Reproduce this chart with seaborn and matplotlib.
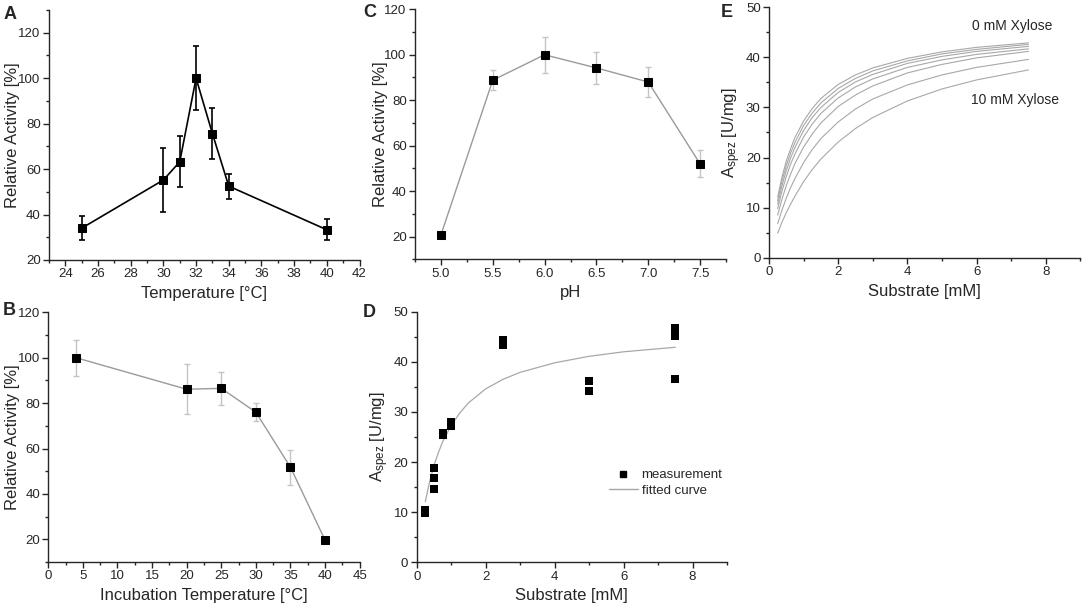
import numpy as np
import pandas as pd
import matplotlib
matplotlib.use("Agg")
import matplotlib.pyplot as plt
import seaborn as sns
from matplotlib.ticker import MultipleLocator
from matplotlib.lines import Line2D

# A - temperature optimum
temp_a = [25, 30, 31, 32, 33, 34, 40]
act_a = [34.0, 55.2, 63.2, 100.0, 75.6, 52.5, 33.3]
err_a = [5.2, 14.2, 11.3, 14.0, 11.1, 5.5, 4.6]

# B - incubation temperature (stability)
temp_b = [4, 20, 25, 30, 35, 40]
act_b = [100.0, 86.1, 86.5, 76.0, 51.8, 19.7]
err_b = [8.0, 11.0, 7.3, 4.0, 7.7, 0.0]

# C - pH
ph_c = [5.0, 5.5, 6.0, 6.5, 7.0, 7.5]
act_c = [20.7, 88.8, 100.0, 94.2, 88.0, 52.0]
err_c = [0.5, 4.3, 8.0, 7.2, 6.5, 6.0]

# D - kinetics measurements + fitted curve
subs_d = [0.25, 0.25, 0.5, 0.5, 0.5, 0.75, 0.75, 1.0, 1.0,
          2.5, 2.5, 5.0, 5.0, 7.5, 7.5, 7.5]
aspez_d = [10.4, 9.9, 18.8, 16.8, 14.6, 25.8, 25.4, 28.0, 27.2,
           44.3, 43.4, 36.1, 34.2, 46.7, 45.1, 36.6]
fit_x = [0.25, 0.375, 0.5, 0.625, 0.75, 1, 1.25, 1.5, 2, 2.5, 3, 4, 5, 6, 7.5]
fit_d = [12.1, 16.1, 19.3, 21.8, 24.0, 27.3, 29.8, 31.8, 34.6, 36.5, 37.9,
         39.8, 41.1, 42.0, 42.9]

# E - fitted curves with increasing xylose (top = 0 mM, bottom = 10 mM)
curves_e = [
    [12.1, 16.1, 19.3, 21.8, 24.0, 27.3, 29.8, 31.8, 34.6, 36.5, 37.9, 39.8, 41.1, 42.0, 42.9],
    [11.4, 15.3, 18.4, 20.9, 23.0, 26.4, 28.9, 30.9, 33.8, 35.8, 37.3, 39.3, 40.7, 41.6, 42.6],
    [10.7, 14.4, 17.4, 19.9, 22.0, 25.4, 28.0, 30.0, 33.0, 35.1, 36.6, 38.8, 40.2, 41.2, 42.2],
    [9.8, 13.3, 16.2, 18.7, 20.7, 24.1, 26.7, 28.8, 31.9, 34.1, 35.7, 38.0, 39.5, 40.6, 41.7],
    [8.5, 11.7, 14.4, 16.7, 18.8, 22.1, 24.7, 26.9, 30.2, 32.5, 34.3, 36.9, 38.6, 39.9, 41.2],
    [6.8, 9.5, 11.9, 14.0, 15.8, 19.0, 21.6, 23.8, 27.1, 29.7, 31.7, 34.5, 36.5, 38.0, 39.6],
    [4.9, 7.1, 9.0, 10.7, 12.3, 15.2, 17.6, 19.7, 23.1, 25.8, 28.0, 31.3, 33.7, 35.5, 37.5],
]

sns.set_style("ticks")
plt.rcParams['font.family'] = ['Liberation Sans', 'DejaVu Sans']
plt.rcParams['mathtext.default'] = 'regular'
plt.rcParams['xtick.labelsize'] = 9.5
plt.rcParams['ytick.labelsize'] = 9.5
plt.rcParams['axes.labelsize'] = 12
plt.rcParams['axes.linewidth'] = 1.0

fig = plt.figure(figsize=(10.84, 6.09), dpi=100)
W, H = 1084, 609


def make_ax(x0, x1, ytop, ybot):
    return fig.add_axes([x0 / W, 1 - ybot / H, (x1 - x0) / W, (ybot - ytop) / H])


ax_a = make_ax(49, 359.5, 10, 260)
ax_b = make_ax(48.3, 359.6, 312.3, 562)
ax_c = make_ax(415, 726, 9.3, 259.3)
ax_d = make_ax(416.7, 727, 311.7, 562.3)
ax_e = make_ax(769, 1080.4, 7.3, 257.7)

gray = '#9a9a9a'
light = '#c4c4c4'
fitgray = '#a8a8a8'
ms = 5.2

# A
ax_a.errorbar(temp_a, act_a, yerr=err_a, fmt='none', ecolor='black',
              elinewidth=1.2, capsize=2.5, capthick=1.2, zorder=2)
sns.lineplot(x=temp_a, y=act_a, ax=ax_a, color='black', lw=1.2, marker='s',
             markersize=ms, markerfacecolor='black', markeredgecolor='black', zorder=3)
ax_a.set_xlim(23, 42)
ax_a.set_ylim(20, 130)
ax_a.xaxis.set_major_locator(MultipleLocator(2))
ax_a.xaxis.set_minor_locator(MultipleLocator(1))
ax_a.set_yticks([20, 40, 60, 80, 100, 120])
ax_a.yaxis.set_minor_locator(MultipleLocator(10))
ax_a.set_xlabel('Temperature [°C]')
ax_a.set_ylabel('Relative Activity [%]')
ax_a.yaxis.set_label_coords(-0.092, 0.5)

# B
ax_b.errorbar(temp_b, act_b, yerr=err_b, fmt='none', ecolor=light,
              elinewidth=1.0, capsize=2.5, capthick=1.0, zorder=2)
sns.lineplot(x=temp_b, y=act_b, ax=ax_b, color=gray, lw=1.0, marker='s',
             markersize=ms, markerfacecolor='black', markeredgecolor='black', zorder=3)
ax_b.set_xlim(0, 45)
ax_b.set_ylim(10, 120)
ax_b.xaxis.set_major_locator(MultipleLocator(5))
ax_b.xaxis.set_minor_locator(MultipleLocator(2.5))
ax_b.set_yticks([20, 40, 60, 80, 100, 120])
ax_b.yaxis.set_minor_locator(MultipleLocator(10))
ax_b.set_xlabel('Incubation Temperature [°C]')
ax_b.set_ylabel('Relative Activity [%]')
ax_b.yaxis.set_label_coords(-0.090, 0.5)

# C
ax_c.errorbar(ph_c, act_c, yerr=err_c, fmt='none', ecolor=light,
              elinewidth=1.0, capsize=2.5, capthick=1.0, zorder=2)
sns.lineplot(x=ph_c, y=act_c, ax=ax_c, color=gray, lw=1.0, marker='s',
             markersize=ms, markerfacecolor='black', markeredgecolor='black', zorder=3)
ax_c.set_xlim(4.75, 7.75)
ax_c.set_ylim(10, 120)
ax_c.set_xticks(ph_c)
ax_c.set_xticklabels([f'{v:.1f}' for v in ph_c])
ax_c.xaxis.set_minor_locator(MultipleLocator(0.25))
ax_c.set_yticks([20, 40, 60, 80, 100, 120])
ax_c.yaxis.set_minor_locator(MultipleLocator(10))
ax_c.set_xlabel('pH')
ax_c.set_ylabel('Relative Activity [%]')
ax_c.yaxis.set_label_coords(-0.088, 0.5)

# D
sns.lineplot(x=fit_x, y=fit_d, ax=ax_d, color=fitgray, lw=0.9, zorder=2)
sns.scatterplot(x=subs_d, y=aspez_d, ax=ax_d, marker='s', color='black',
                s=28, edgecolor='black', linewidth=0, zorder=3)
ax_d.set_xlim(0, 9)
ax_d.set_ylim(0, 50)
ax_d.xaxis.set_major_locator(MultipleLocator(2))
ax_d.xaxis.set_minor_locator(MultipleLocator(1))
ax_d.yaxis.set_major_locator(MultipleLocator(10))
ax_d.yaxis.set_minor_locator(MultipleLocator(5))
ax_d.set_xlabel('Substrate [mM]')
ax_d.set_ylabel('A$_{spez}$ [U/mg]')
ax_d.yaxis.set_label_coords(-0.083, 0.5)
handles = [Line2D([], [], marker='s', ls='none', color='black', markersize=5),
           Line2D([], [], color=fitgray, lw=1.0)]
ax_d.legend(handles, ['measurement', 'fitted curve'], loc='upper left',
            bbox_to_anchor=(0.58, 0.42), frameon=False, fontsize=9.5,
            handlelength=2.2, handletextpad=0.3, labelspacing=0.25)

# E
for vals in curves_e:
    sns.lineplot(x=fit_x, y=vals, ax=ax_e, color=fitgray, lw=0.8)
ax_e.set_xlim(0, 9)
ax_e.set_ylim(0, 50)
ax_e.xaxis.set_major_locator(MultipleLocator(2))
ax_e.xaxis.set_minor_locator(MultipleLocator(1))
ax_e.yaxis.set_major_locator(MultipleLocator(10))
ax_e.yaxis.set_minor_locator(MultipleLocator(5))
ax_e.set_xlabel('Substrate [mM]')
ax_e.set_ylabel('A$_{spez}$ [U/mg]')
ax_e.yaxis.set_label_coords(-0.085, 0.5)
ax_e.text(5.86, 46.3, '0 mM Xylose', fontsize=10, va='center', ha='left')
ax_e.text(5.85, 31.5, '10 mM Xylose', fontsize=10, va='center', ha='left')

for ax in [ax_a, ax_b, ax_c, ax_d, ax_e]:
    sns.despine(ax=ax)
    ax.tick_params(which='major', direction='out', length=4, width=1, pad=2)
    ax.tick_params(which='minor', direction='out', length=2, width=1)

for letter, px, py in [('A', 4, 6), ('B', 3, 302), ('C', 363, 4), ('D', 363, 304), ('E', 721, 4)]:
    fig.text(px / W, 1 - py / H, letter, fontsize=13, fontweight='bold', va='top', ha='left')

fig.savefig('out.png', dpi=100)
